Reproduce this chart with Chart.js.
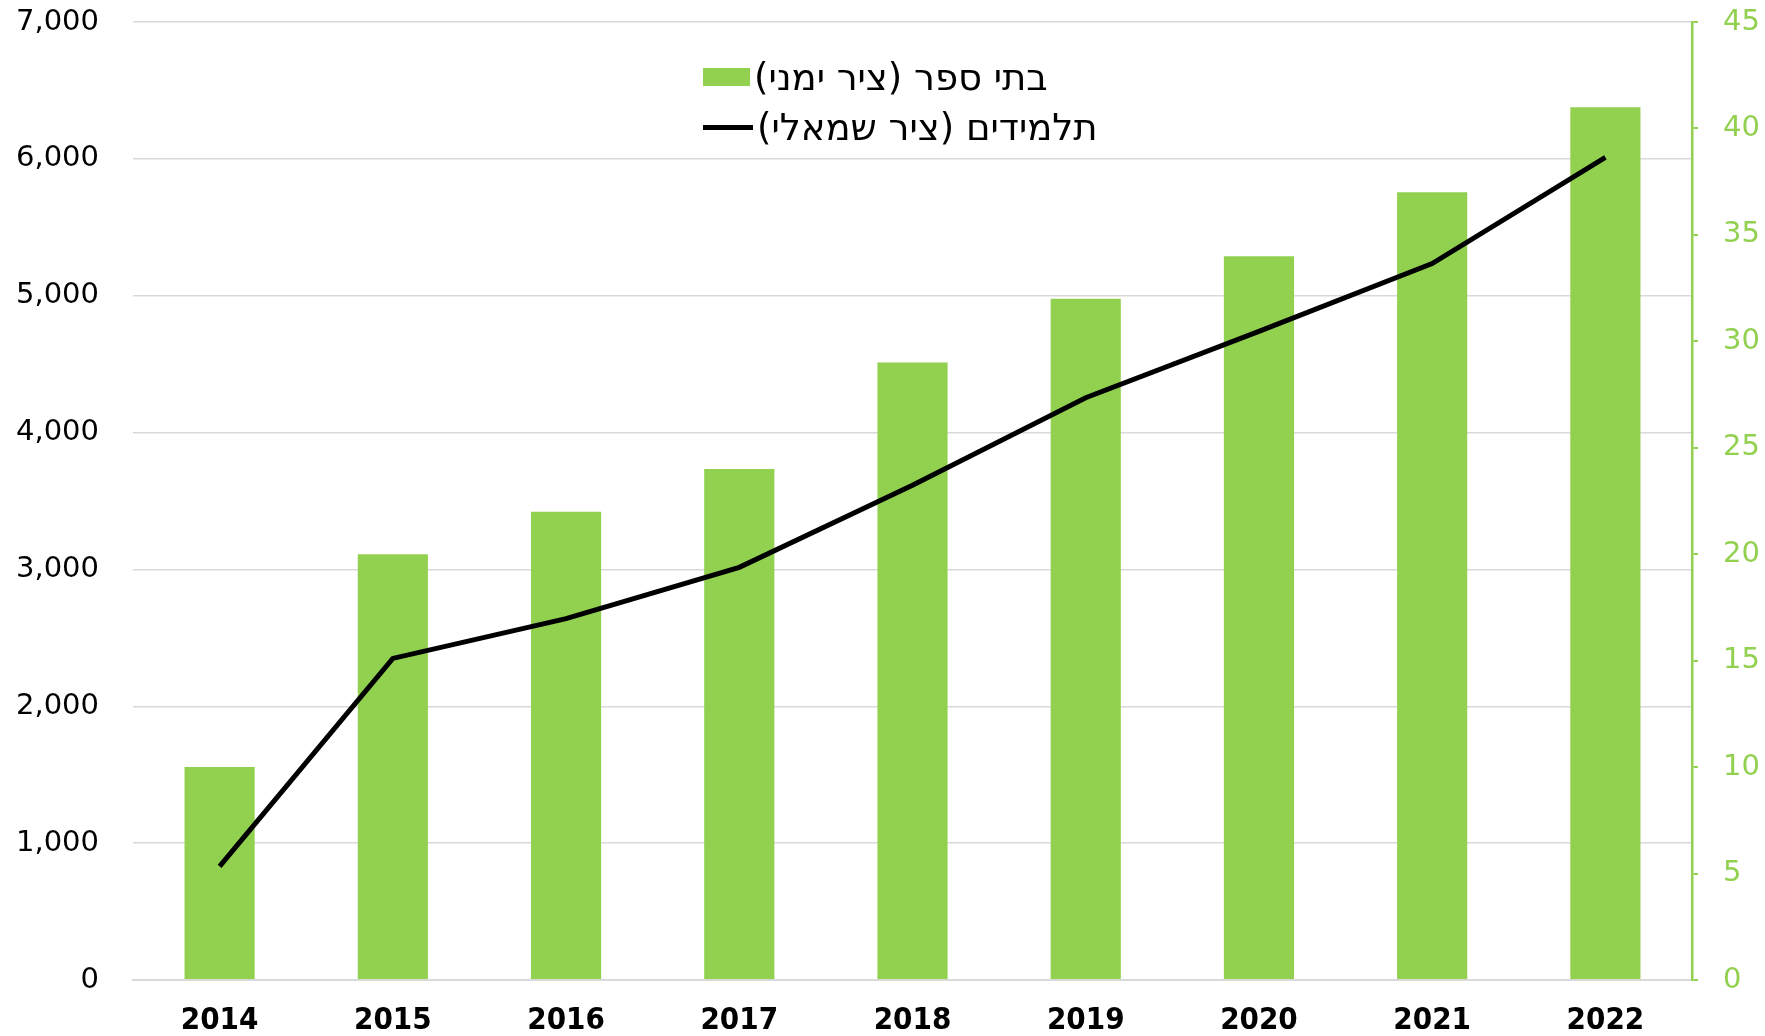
<!DOCTYPE html>
<html>
<head>
<meta charset="utf-8">
<script src="https://cdn.jsdelivr.net/npm/chart.js@4/dist/chart.umd.min.js"></script>
<style>
  body { margin: 0; background: #fff; }
  #wrap { position: relative; width: 1765px; height: 1036px; }
  #legend { position: absolute; left: 703px; top: 52px; font-family: "DejaVu Sans", sans-serif; font-size: 37px; color: #000; }
  .item { display: flex; align-items: center; height: 50px; }
  .swatch { width: 47px; height: 18px; margin-right: 4px; }
  .stroke { width: 50px; height: 5px; margin-right: 4px; }
</style>
</head>
<body>
<div id="wrap">
  <canvas id="chart" width="1765" height="1036"></canvas>
  <div id="legend"></div>
</div>
<script>
// Data
const years = ['2014', '2015', '2016', '2017', '2018', '2019', '2020', '2021', '2022'];
const schools = [10, 20, 22, 24, 29, 32, 34, 37, 41];          // right axis
const students = [830, 2350, 2640, 3015, 3615, 4255, 4740, 5235, 6010]; // left axis
const schoolsLabel = 'בתי ספר (ציר ימני)';
const studentsLabel = 'תלמידים (ציר שמאלי)';

const green = '#92D050';

// tick padding also pads the top of the chart area in Chart.js, drop that
function noVerticalPad(scale, width) {
    scale.width = width;
    scale.paddingTop = 0;
    scale.paddingBottom = 0;
}

const chart = new Chart(document.getElementById('chart'), {
    data: {
        labels: years,
        datasets: [
            {
                type: 'line',
                label: studentsLabel,
                data: students,
                yAxisID: 'y',
                borderColor: '#000',
                borderWidth: 5,
                pointRadius: 0,
                tension: 0,
                order: 0
            },
            {
                type: 'bar',
                label: schoolsLabel,
                data: schools,
                yAxisID: 'y2',
                backgroundColor: green,
                barPercentage: 0.405,
                categoryPercentage: 1,
                order: 1
            }
        ]
    },
    options: {
        responsive: false,
        devicePixelRatio: 1,
        animation: false,
        layout: { padding: { top: 22, left: 0, right: 0, bottom: 0 } },
        plugins: { legend: { display: false }, tooltip: { enabled: false } },
        scales: {
            x: {
                grid: { display: false },
                border: { color: '#d9d9d9', width: 2 },
                ticks: {
                    color: '#000',
                    padding: 17,
                    font: { family: '"DejaVu Sans Condensed", sans-serif', size: 31, weight: 'bold', lineHeight: 1 }
                },
                afterFit(scale) { scale.height = 56; }
            },
            y: {
                position: 'left',
                min: 0, max: 7000,
                grid: { color: '#d9d9d9', lineWidth: 1.5, drawTicks: false },
                border: { display: false },
                ticks: {
                    stepSize: 1000,
                    padding: 34,
                    color: '#000',
                    font: { family: '"DejaVu Sans", sans-serif', size: 29 },
                    callback: v => v.toLocaleString('en-US')
                },
                afterFit(scale) { noVerticalPad(scale, 133); }
            },
            y2: {
                position: 'right',
                min: 0, max: 45,
                grid: { drawOnChartArea: false, color: green, lineWidth: 2, tickLength: 6 },
                border: { color: green, width: 2.5 },
                ticks: {
                    stepSize: 5,
                    padding: 25,
                    color: green,
                    font: { family: '"DejaVu Sans", sans-serif', size: 29 }
                },
                afterFit(scale) { noVerticalPad(scale, 73); }
            }
        }
    }
});

// HTML legend built from the datasets (bars first, then line)
const legend = document.getElementById('legend');
[chart.data.datasets[1], chart.data.datasets[0]].forEach(ds => {
    const row = document.createElement('div');
    row.className = 'item';
    const mark = document.createElement('span');
    if (ds.type === 'bar') {
        mark.className = 'swatch';
        mark.style.background = ds.backgroundColor;
    } else {
        mark.className = 'stroke';
        mark.style.background = ds.borderColor;
    }
    const txt = document.createElement('span');
    txt.dir = 'rtl';
    txt.textContent = ds.label;
    row.appendChild(mark);
    row.appendChild(txt);
    legend.appendChild(row);
});
</script>
</body>
</html>
